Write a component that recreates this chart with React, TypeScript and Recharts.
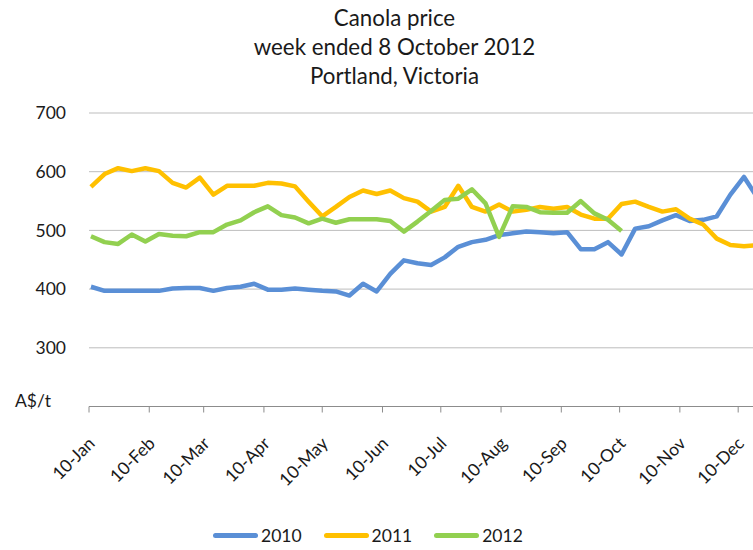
import { LineChart, Line, XAxis, YAxis, CartesianGrid, Legend } from "recharts";

// day offsets from 10 Jan for the monthly ticks
const MONTH_TICKS = [0, 31, 59, 90, 120, 151, 181, 212, 243, 273, 304, 334];
const MONTH_LABELS = [
  "10-Jan", "10-Feb", "10-Mar", "10-Apr", "10-May", "10-Jun",
  "10-Jul", "10-Aug", "10-Sep", "10-Oct", "10-Nov", "10-Dec",
];
const PRICE_TICKS = [200, 300, 400, 500, 600, 700];

// weekly prices, A$/t
const PRICE_2010 = [
  404, 397, 397, 397, 397, 397, 401, 402, 402, 397,
  402, 404, 409, 399, 399, 401, 399, 397, 396, 389,
  409, 396, 426, 449, 444, 441, 454, 472, 480, 484,
  492, 495, 498, 497, 495, 497, 468, 468, 480, 459,
  503, 507, 517, 526, 516, 518, 524, 561, 591, 555,
];
const PRICE_2011 = [
  574, 596, 606, 601, 606, 601, 581, 573, 590, 561,
  576, 576, 576, 581, 580, 575, 549, 524, 540, 557,
  568, 562, 568, 555, 549, 532, 540, 576, 540, 532,
  544, 532, 535, 540, 537, 540, 527, 520, 520, 545,
  549, 540, 532, 536, 520, 510, 486, 475, 473, 475,
];
const PRICE_2012 = [
  490, 480, 477, 493, 481, 494, 491, 490, 497, 497,
  510, 517, 531, 541, 526, 522, 512, 520, 513, 519,
  519, 519, 516, 498, 515, 533, 552, 554, 570, 546,
  489, 541, 540, 531, 530, 530, 550, 529, 518, 499,
];

const SERIES = [
  { key: "y2010", name: "2010", color: "#5A8FD6" },
  { key: "y2011", name: "2011", color: "#FFC000" },
  { key: "y2012", name: "2012", color: "#92D050" },
];

const rows = PRICE_2010.map((v, i) => ({
  day: i * 7 + 1,
  y2010: v,
  y2011: PRICE_2011[i],
  y2012: PRICE_2012[i],
}));

const FONT = "Lato, 'Open Sans', sans-serif";
const TEXT = "#1a1a1a";

function MonthTick({ x, y, payload }: any) {
  const i = MONTH_TICKS.indexOf(payload.value);
  const ax = x + 7;
  const ay = y + 30;
  return (
    <text
      x={ax}
      y={ay}
      transform={`rotate(-45, ${ax}, ${ay})`}
      textAnchor="end"
      fontSize={17.5}
      fill={TEXT}
      fontFamily={FONT}
    >
      {MONTH_LABELS[i]}
    </text>
  );
}

function PriceTick({ x, y, payload }: any) {
  if (payload.value === 200) {
    return (
      <text x={15} y={y - 6} dy="0.35em" fontSize={17.5} fill={TEXT} fontFamily={FONT}>
        A$/t
      </text>
    );
  }
  return (
    <text x={x - 15} y={y} dy="0.35em" textAnchor="end" fontSize={17.5} fill={TEXT} fontFamily={FONT}>
      {payload.value}
    </text>
  );
}

function renderLegend() {
  return (
    <div style={{ display: "flex", alignItems: "center", height: 22, fontFamily: FONT, fontSize: 17.5, color: TEXT }}>
      {SERIES.map((s) => (
        <div key={s.key} style={{ display: "flex", alignItems: "center", marginRight: 22 }}>
          <div style={{ width: 45, height: 5, borderRadius: 3, background: s.color, marginRight: 3 }} />
          <span>{s.name}</span>
        </div>
      ))}
    </div>
  );
}

export default function App() {
  return (
    <div
      style={{
        position: "absolute",
        left: 0,
        top: 0,
        width: 753,
        height: 550,
        overflow: "hidden",
        background: "#fff",
      }}
    >
      <div
        style={{
          position: "absolute",
          left: 0,
          top: 3,
          width: 789,
          textAlign: "center",
          fontFamily: FONT,
          fontSize: 22.3,
          lineHeight: "29px",
          color: TEXT,
        }}
      >
        <div>Canola price</div>
        <div>week ended 8 October 2012</div>
        <div>Portland, Victoria</div>
      </div>
      <LineChart
        width={789}
        height={550}
        data={rows}
        margin={{ top: 113, right: 10, bottom: 41.5, left: 29 }}
      >
        <CartesianGrid vertical={false} stroke="#bdbdbd" />
        <XAxis
          dataKey="day"
          type="number"
          domain={[0, 355]}
          ticks={MONTH_TICKS}
          interval={0}
          allowDataOverflow
          height={80}
          tick={<MonthTick />}
          tickSize={6}
          axisLine={{ stroke: "#8c8c8c" }}
          tickLine={{ stroke: "#8c8c8c" }}
        />
        <YAxis
          domain={[200, 700]}
          ticks={PRICE_TICKS}
          interval={0}
          width={60}
          axisLine={false}
          tickLine={false}
          tick={<PriceTick />}
        />
        <Legend
          verticalAlign="bottom"
          content={renderLegend}
          wrapperStyle={{ position: "absolute", left: 213, top: 524, width: 340, height: 22 }}
        />
        {SERIES.map((s) => (
          <Line
            key={s.key}
            dataKey={s.key}
            name={s.name}
            type="linear"
            stroke={s.color}
            strokeWidth={4.5}
            strokeLinejoin="round"
            dot={false}
            activeDot={false}
            isAnimationActive={false}
          />
        ))}
      </LineChart>
    </div>
  );
}
